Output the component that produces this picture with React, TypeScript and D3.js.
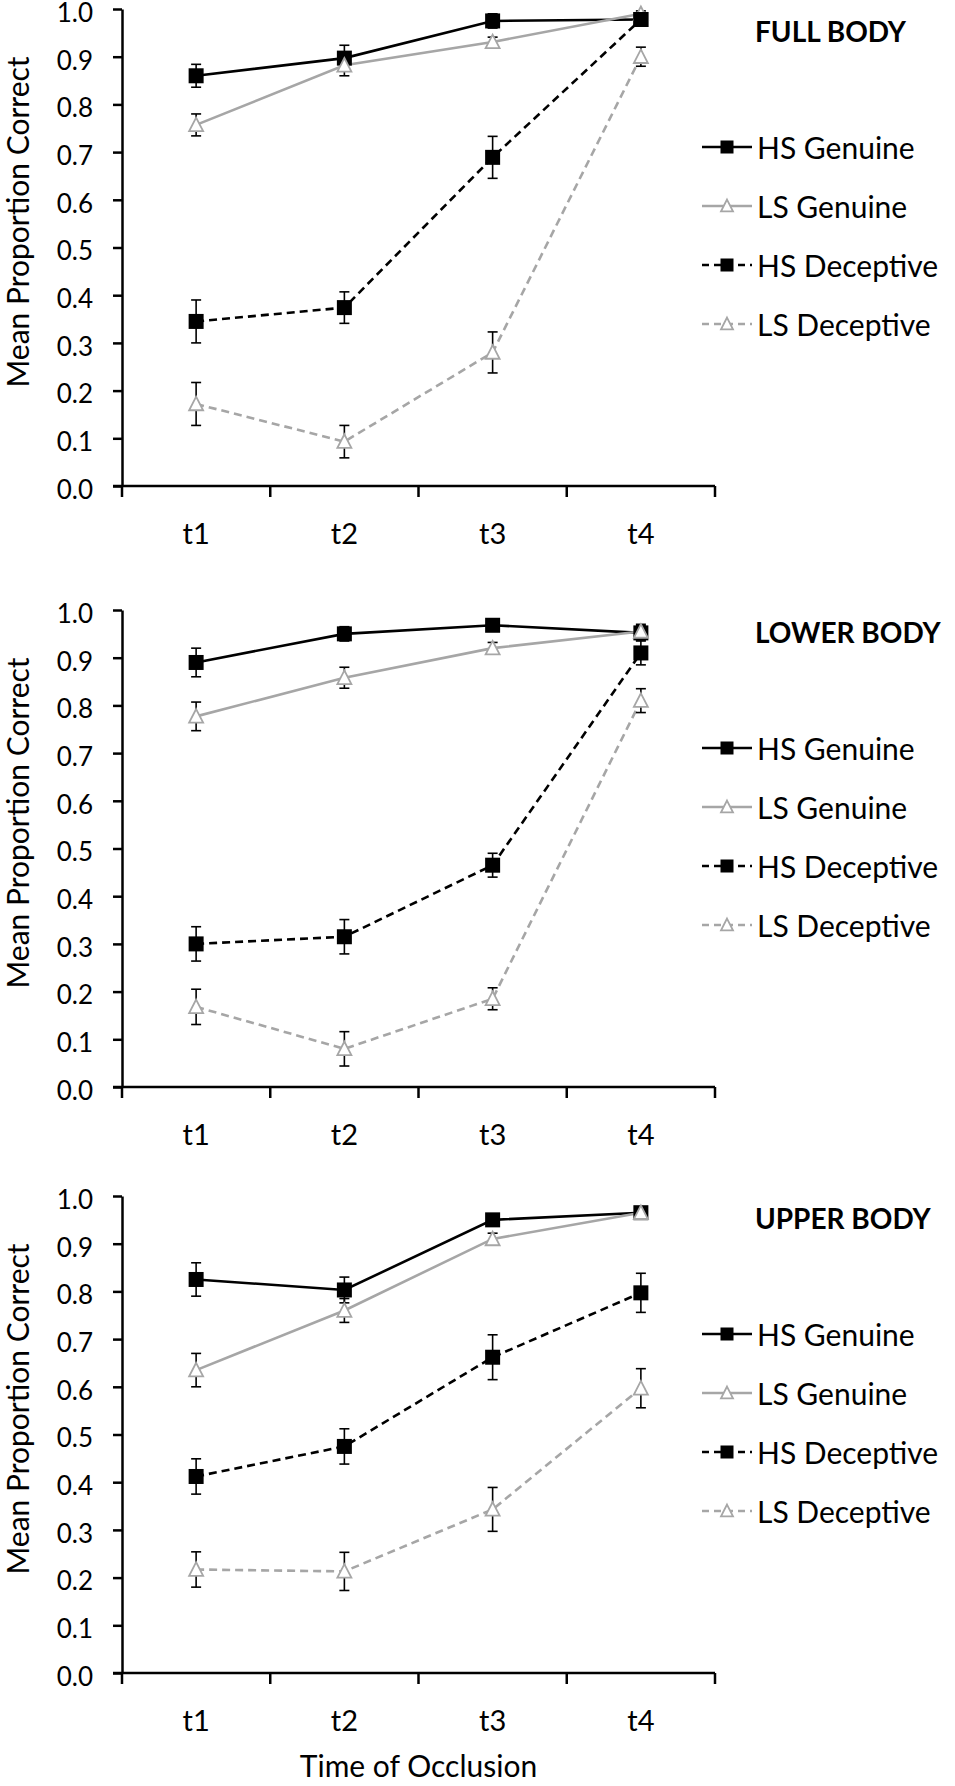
import React, { useEffect, useRef } from 'react';
import * as d3 from 'd3';

const times = ['t1', 't2', 't3', 't4'];
const seriesNames = ['HS Genuine', 'LS Genuine', 'HS Deceptive', 'LS Deceptive'];
const panelTitles = ['FULL BODY', 'LOWER BODY', 'UPPER BODY'];
const yTicks = [0, 0.1, 0.2, 0.3, 0.4, 0.5, 0.6, 0.7, 0.8, 0.9, 1.0];

// rows: HS Genuine, LS Genuine, HS Deceptive, LS Deceptive
const fullMeans = [
  [0.86, 0.897, 0.975, 0.978],
  [0.757, 0.882, 0.931, 0.99],
  [0.345, 0.374, 0.689, 0.978],
  [0.172, 0.093, 0.28, 0.9],
];
const fullErrors = [
  [0.024, 0.027, 0.015, 0.008],
  [0.023, 0.022, 0.01, 0.006],
  [0.045, 0.033, 0.044, 0.01],
  [0.045, 0.034, 0.043, 0.02],
];

const lowerMeans = [
  [0.89, 0.95, 0.968, 0.952],
  [0.777, 0.858, 0.92, 0.955],
  [0.3, 0.315, 0.465, 0.91],
  [0.168, 0.08, 0.185, 0.81],
];
const lowerErrors = [
  [0.03, 0.015, 0.01, 0.015],
  [0.03, 0.022, 0.012, 0.015],
  [0.036, 0.036, 0.025, 0.025],
  [0.037, 0.036, 0.023, 0.025],
];

const upperMeans = [
  [0.825, 0.803, 0.95, 0.965],
  [0.635, 0.76, 0.91, 0.965],
  [0.412, 0.475, 0.662, 0.797],
  [0.217, 0.213, 0.343, 0.597],
];
const upperErrors = [
  [0.035, 0.027, 0.012, 0.01],
  [0.035, 0.025, 0.012, 0.012],
  [0.037, 0.037, 0.047, 0.041],
  [0.037, 0.04, 0.046, 0.041],
];

const panelMeans = [fullMeans, lowerMeans, upperMeans];
const panelErrors = [fullErrors, lowerErrors, upperErrors];

const GREY = '#a6a6a6';
const FONT = 'Lato, "Open Sans", sans-serif';

const seriesStyle = [
  { color: '#000', dash: null, marker: 'square' },
  { color: GREY, dash: null, marker: 'triangle' },
  { color: '#000', dash: '8,5', marker: 'square' },
  { color: GREY, dash: '8,5', marker: 'triangle' },
];

const App: React.FC = () => {
  const svgRef = useRef<SVGSVGElement>(null);

  useEffect(() => {
    const svg = d3.select(svgRef.current);
    svg.selectAll('*').remove();

    const width = 955;
    const height = 1786;
    svg.attr('width', width).attr('height', height);
    svg.append('rect').attr('width', width).attr('height', height).attr('fill', '#fff');

    const panelTops = [9, 610, 1196];
    const panelHeight = 477;
    const axisLeft = 122;
    const axisRight = 715;

    const x = d3.scaleBand().domain(times).range([axisLeft, axisRight]);
    const cx = (t: string) => (x(t) as number) + x.bandwidth() / 2;

    const drawMarker = (g: any, kind: string, px: number, py: number, size: number, color: string) => {
      if (kind === 'square') {
        g.append('rect')
          .attr('x', px - size / 2)
          .attr('y', py - size / 2)
          .attr('width', size)
          .attr('height', size)
          .attr('fill', '#000');
      } else {
        const h = size * 0.9;
        g.append('path')
          .attr('d', `M${px},${py - h / 2 - 1}L${px + size / 2},${py + h / 2}L${px - size / 2},${py + h / 2}Z`)
          .attr('fill', '#fff')
          .attr('stroke', color)
          .attr('stroke-width', 1.8);
      }
    };

    panelTops.forEach((top, p) => {
      const bottom = top + panelHeight;
      const y = d3.scaleLinear().domain([0, 1]).range([bottom, top]);
      const g = svg.append('g');

      // Y axis
      const yAxis = g.append('g')
        .attr('transform', `translate(${axisLeft},0)`)
        .call(d3.axisLeft(y).tickValues(yTicks).tickFormat(d3.format('.1f')).tickSize(9).tickSizeOuter(0).tickPadding(20));
      yAxis.select('.domain').attr('stroke', '#000').attr('stroke-width', 2.5);
      yAxis.selectAll('.tick line').attr('stroke', '#000').attr('stroke-width', 2.5);
      yAxis.selectAll('.tick text')
        .attr('fill', '#000')
        .attr('dy', '0.32em')
        .attr('y', 4)
        .style('font-family', FONT)
        .style('font-size', '26px');

      // X axis with ticks between categories
      g.append('line')
        .attr('x1', axisLeft - 9)
        .attr('x2', axisRight)
        .attr('y1', bottom)
        .attr('y2', bottom)
        .attr('stroke', '#000')
        .attr('stroke-width', 2.5);
      const boundaries = times.map(t => x(t) as number).concat([axisRight]);
      g.selectAll('.xtick')
        .data(boundaries)
        .enter().append('line')
        .attr('x1', d => d)
        .attr('x2', d => d)
        .attr('y1', bottom)
        .attr('y2', bottom + 11)
        .attr('stroke', '#000')
        .attr('stroke-width', 2.5);
      g.selectAll('.xlabel')
        .data(times)
        .enter().append('text')
        .attr('x', d => cx(d))
        .attr('y', bottom + 46)
        .attr('text-anchor', 'middle')
        .attr('dominant-baseline', 'central')
        .style('font-family', FONT)
        .style('font-size', '29px')
        .text(d => d);

      // Y axis title
      g.append('text')
        .attr('transform', `translate(17,${top + 213}) rotate(-90)`)
        .attr('text-anchor', 'middle')
        .attr('dominant-baseline', 'central')
        .style('font-family', FONT)
        .style('font-size', '30px')
        .text('Mean Proportion Correct');

      const means = panelMeans[p];
      const errors = panelErrors[p];

      // Lines
      means.forEach((vals, s) => {
        const st = seriesStyle[s];
        const line = d3.line<number>()
          .x((d, i) => cx(times[i]))
          .y(d => y(d));
        g.append('path')
          .datum(vals)
          .attr('d', line)
          .attr('fill', 'none')
          .attr('stroke', st.color)
          .attr('stroke-width', 2.6)
          .attr('stroke-dasharray', st.dash);
      });

      // Error bars and markers
      means.forEach((vals, s) => {
        const st = seriesStyle[s];
        vals.forEach((v, i) => {
          const px = cx(times[i]);
          const e = errors[s][i];
          const y0 = y(v - e);
          const y1 = y(v + e);
          g.append('line')
            .attr('x1', px).attr('x2', px).attr('y1', y0).attr('y2', y1)
            .attr('stroke', '#000').attr('stroke-width', 1.6);
          [y0, y1].forEach(yy => {
            g.append('line')
              .attr('x1', px - 5).attr('x2', px + 5).attr('y1', yy).attr('y2', yy)
              .attr('stroke', '#000').attr('stroke-width', 1.6);
          });
          drawMarker(g, st.marker, px, y(v), st.marker === 'square' ? 15 : 14, st.color);
        });
      });

      // Panel title
      g.append('text')
        .attr('x', 755)
        .attr('y', top + 22)
        .attr('dominant-baseline', 'central')
        .style('font-family', FONT)
        .style('font-weight', 'bold')
        .style('font-size', '28px')
        .text(panelTitles[p]);

      // Legend
      seriesNames.forEach((name, s) => {
        const st = seriesStyle[s];
        const ly = top + 138 + s * 59;
        g.append('line')
          .attr('x1', 702).attr('x2', 752).attr('y1', ly).attr('y2', ly)
          .attr('stroke', st.color)
          .attr('stroke-width', 2.6)
          .attr('stroke-dasharray', st.dash ? '7,5' : null);
        drawMarker(g, st.marker, 727, ly, st.marker === 'square' ? 13 : 12, st.color);
        g.append('text')
          .attr('x', 757)
          .attr('y', ly)
          .attr('dominant-baseline', 'central')
          .style('font-family', FONT)
          .style('font-size', '30px')
          .text(name);
      });
    });

    svg.append('text')
      .attr('x', (axisLeft + axisRight) / 2)
      .attr('y', 1765)
      .attr('text-anchor', 'middle')
      .attr('dominant-baseline', 'central')
      .style('font-family', FONT)
      .style('font-size', '30px')
      .text('Time of Occlusion');
  }, []);

  return (
    <svg ref={svgRef} style={{ position: 'absolute', left: 0, top: 0, display: 'block' }}></svg>
  );
};

export default App;
